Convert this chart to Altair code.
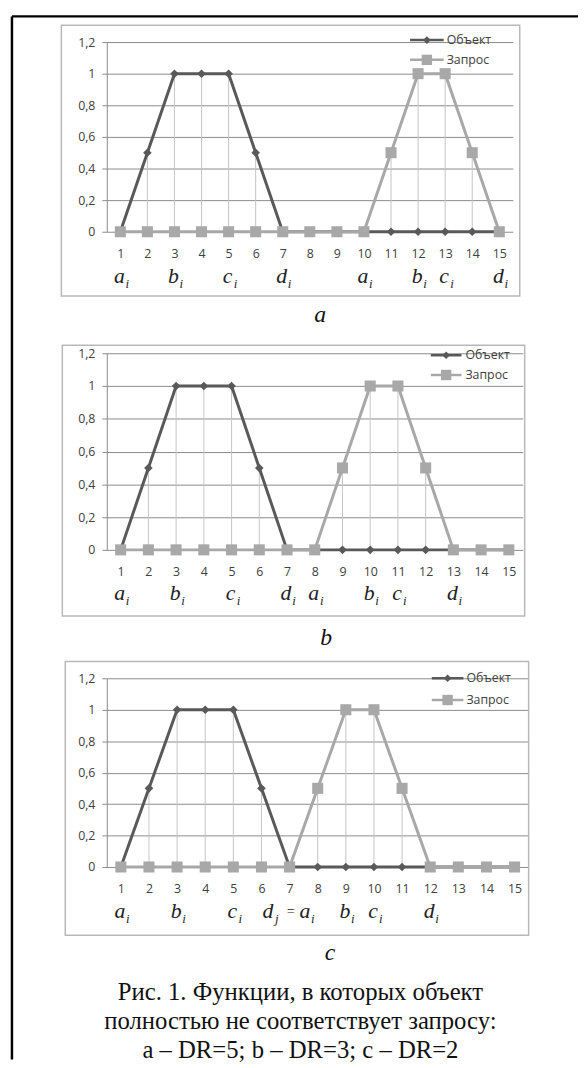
import altair as alt
import pandas as pd

# ---------------- data ----------------
categories = list(range(1, 16))
series_names = ["Объект", "Запрос"]

obj_a = [0, 0.5, 1, 1, 1, 0.5, 0, 0, 0, 0, 0, 0, 0, 0, 0]
req_a = [0, 0, 0, 0, 0, 0, 0, 0, 0, 0, 0.5, 1, 1, 0.5, 0]

obj_b = [0, 0.5, 1, 1, 1, 0.5, 0, 0, 0, 0, 0, 0, 0, 0, 0]
req_b = [0, 0, 0, 0, 0, 0, 0, 0, 0.5, 1, 1, 0.5, 0, 0, 0]

obj_c = [0, 0.5, 1, 1, 1, 0.5, 0, 0, 0, 0, 0, 0, 0, 0, 0]
req_c = [0, 0, 0, 0, 0, 0, 0, 0.5, 1, 1, 0.5, 0, 0, 0, 0]

y_ticks = [0, 0.2, 0.4, 0.6, 0.8, 1, 1.2]

# point labels under the x axis: (category, letter, subscript)
labels_a = [(1, "a", "i"), (3, "b", "i"), (5, "c", "i"), (7, "d", "i"),
            (10, "a", "i"), (12, "b", "i"), (13, "c", "i"), (15, "d", "i")]
labels_b = [(1, "a", "i"), (3, "b", "i"), (5, "c", "i"), (7, "d", "i"),
            (8, "a", "i"), (10, "b", "i"), (11, "c", "i"), (13, "d", "i")]
labels_c = [(1, "a", "i"), (3, "b", "i"), (5, "c", "i"),
            (9, "b", "i"), (10, "c", "i"), (12, "d", "i")]
# special combined label "d_j = a_i" in panel c
special_c = {"d": (7, "d", "j"), "eq": (7, "=", ""), "a": (8, "a", "i")}

panel_letters = ["a", "b", "c"]
caption_lines = ["Рис. 1. Функции, в которых объект",
                 "полностью не соответствует запросу:",
                 "a – DR=5; b – DR=3; c – DR=2"]

# ---------------- styles ----------------
OBJ_COLOR = "#595959"
REQ_COLOR = "#a8a8a8"
GRID = "#8a8a8a"
DROP = "#c4c4c4"
BOX = "#b8b8b8"
SANS = "Open Sans"
SERIF = "Liberation Serif"
TXT = "#404040"

one = pd.DataFrame({"k": [0]})


def panel(obj, req, labels, w, h, box, legend, italic_y, frame=False, special=None):
    df = pd.DataFrame({"x": categories, "obj": obj, "req": req})
    base = alt.Chart(df).transform_calculate(top="max(datum.obj, datum.req)")
    xs = alt.Scale(domain=[0.5, 15.5], nice=False, zero=False)
    ys = alt.Scale(domain=[0, 1.2], nice=False)
    xaxis = alt.Axis(values=categories, grid=False, ticks=False, domain=False,
                     labelPadding=16, labelFont=SANS, labelFontSize=12.5,
                     labelColor=TXT, title=None, labelFlush=False, labelOverlap=False)
    yaxis = alt.Axis(values=y_ticks, grid=True, gridColor=GRID, gridWidth=1,
                     tickColor=GRID, tickSize=5, domainColor=GRID,
                     labelExpr="replace(format(datum.value, '.1~f'), '.', ',')",
                     labelFont=SANS, labelFontSize=12.5, labelColor=TXT,
                     labelPadding=7, title=None, labelOverlap=False, labelFlush=False)

    X = alt.X("x:Q", scale=xs, axis=xaxis)

    layers = []
    # chart box
    layers.append(alt.Chart(one).mark_rect(fill="white", fillOpacity=0, stroke=BOX, strokeWidth=1.5).encode(
        x=alt.value(box[0]), x2=alt.value(box[1]), y=alt.value(box[2]), y2=alt.value(box[3])))
    # drop lines
    layers.append(base.mark_rule(color=DROP, strokeWidth=1).encode(
        x=X, y=alt.Y("top:Q", scale=ys, axis=yaxis), y2=alt.datum(0)))
    # Объект
    layers.append(base.mark_line(color=OBJ_COLOR, strokeWidth=3).encode(
        x=X, y=alt.Y("obj:Q", scale=ys, axis=yaxis)))
    layers.append(base.mark_point(shape="diamond", filled=True, size=75, color=OBJ_COLOR, opacity=1).encode(
        x=X, y=alt.Y("obj:Q", scale=ys, axis=yaxis)))
    # Запрос
    layers.append(base.mark_line(color=REQ_COLOR, strokeWidth=3).encode(
        x=X, y=alt.Y("req:Q", scale=ys, axis=yaxis)))
    layers.append(base.mark_point(shape="square", filled=True, size=125, color=REQ_COLOR, opacity=1).encode(
        x=X, y=alt.Y("req:Q", scale=ys, axis=yaxis)))

    # legend
    lx0, lx1, ltx, ly0, ly1 = legend
    for name, color, shape, size, ly in [(series_names[0], OBJ_COLOR, "diamond", 60, ly0),
                                         (series_names[1], REQ_COLOR, "square", 110, ly1)]:
        layers.append(alt.Chart(one).mark_rule(color=color, strokeWidth=2.5).encode(
            x=alt.value(lx0), x2=alt.value(lx1), y=alt.value(ly)))
        layers.append(alt.Chart(one).mark_point(shape=shape, filled=True, size=size, color=color, opacity=1).encode(
            x=alt.value((lx0 + lx1) / 2), y=alt.value(ly)))
        layers.append(alt.Chart(pd.DataFrame({"t": [name]})).mark_text(
            align="left", baseline="middle", font=SANS, fontSize=12.5, color=TXT).encode(
            x=alt.value(ltx), y=alt.value(ly), text="t:N"))

    # italic point labels
    ldf = pd.DataFrame(labels, columns=["x", "letter", "sub"])
    layers.append(alt.Chart(ldf).mark_text(font=SERIF, fontStyle="italic", fontSize=22,
                                           baseline="alphabetic", align="center", dx=-1, color="#222").encode(
        x=X, y=alt.value(italic_y), text="letter:N"))
    layers.append(alt.Chart(ldf).mark_text(font=SERIF, fontStyle="italic", fontSize=13,
                                           baseline="alphabetic", align="center", dx=7, color="#222").encode(
        x=X, y=alt.value(italic_y + 5), text="sub:N"))
    if special:
        for key, dxl, dxs in [("d", -22, -13), ("eq", 1, 0), ("a", -13, -5)]:
            c, let, sub = special[key]
            sdf = pd.DataFrame({"x": [c], "letter": [let], "sub": [sub]})
            fs = 14 if key == "eq" else 22
            layers.append(alt.Chart(sdf).mark_text(font=SERIF, fontStyle="italic", fontSize=fs,
                                                   baseline="alphabetic", align="center", dx=dxl, color="#222").encode(
                x=X, y=alt.value(italic_y - (2 if key == "eq" else 0)), text="letter:N"))
            if sub:
                layers.append(alt.Chart(sdf).mark_text(font=SERIF, fontStyle="italic", fontSize=13,
                                                       baseline="alphabetic", align="center", dx=dxs, color="#222").encode(
                    x=X, y=alt.value(italic_y + 5), text="sub:N"))

    # outer frame (open at right and bottom, as in the scan)
    if frame:
        layers.append(alt.Chart(one).mark_rule(color="black", strokeWidth=2.5).encode(
            x=alt.value(-96), x2=alt.value(477), y=alt.value(-26)))
        layers.append(alt.Chart(one).mark_rule(color="black", strokeWidth=2.5).encode(
            x=alt.value(-96), y=alt.value(-26), y2=alt.value(1030)))

    return alt.layer(*layers).properties(width=w, height=h)


def spacer(w, h, letter, lx, ly, extra=None):
    layers = [alt.Chart(pd.DataFrame({"t": [letter]})).mark_text(
        font=SERIF, fontStyle="italic", fontSize=24, baseline="alphabetic", align="center", color="#111").encode(
        x=alt.value(lx), y=alt.value(ly), text="t:N")]
    if extra:
        for i, line in enumerate(extra):
            layers.append(alt.Chart(pd.DataFrame({"t": [line]})).mark_text(
                font=SERIF, fontSize=25, baseline="middle", align="center", color="#111").encode(
                x=alt.value(196), y=alt.value(127 + 29 * i), text="t:N"))
    return alt.layer(*layers).properties(width=w, height=h)


pa = panel(obj_a, req_a, labels_a, 411, 192, (-46, 418, -17, 257), (307, 341, 344, -2, 18), 244, frame=True)
sa = spacer(411, 123, panel_letters[0], 216, 91)
pb = panel(obj_b, req_b, labels_b, 421, 199, (-45, 423, -8, 266), (328, 359, 363, 2, 22), 250)
sb = spacer(411, 130, panel_letters[1], 222, 96)
pc = panel(obj_c, req_c, labels_c, 427, 191, (-42, 427, -17, 260), (329, 361, 364, 0, 22), 243,
           special=special_c)
sc = spacer(411, 190, panel_letters[2], 226, 94, extra=caption_lines)

chart = alt.vconcat(pa, sa, pb, sb, pc, sc, spacing=0, bounds="flush").properties(
    padding={"left": 2, "top": 0, "right": 0, "bottom": 0}
).configure_view(stroke=None).configure_axis(labelOverlap=False)

chart.save("out.html", embed_options={"renderer": "svg", "actions": False})
